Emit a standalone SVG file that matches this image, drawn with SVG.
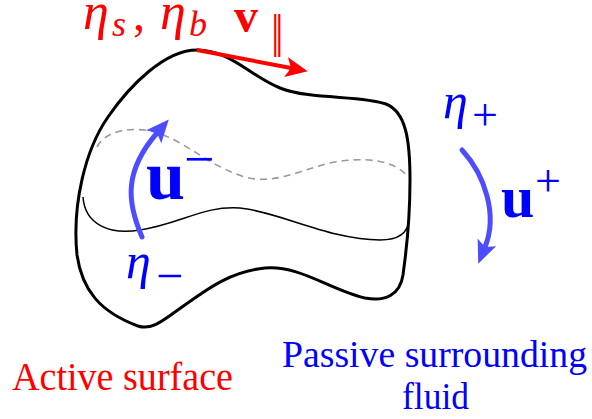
<svg xmlns="http://www.w3.org/2000/svg" width="592" height="419" viewBox="0 0 592 419">
<style>
.t{font-family:"Liberation Serif","DejaVu Serif",serif}
.it{font-style:italic}
.bf{font-weight:bold}
.red{fill:#ff0000}
.blue{fill:#0000ff}
.outline{fill:none;stroke:#000;stroke-width:3;stroke-linejoin:round}
.inner{fill:none;stroke:#000;stroke-width:1.5}
.dash{fill:none;stroke:#999;stroke-width:1.6;stroke-dasharray:7 5}
.barrow{fill:none;stroke:#4d4dff;stroke-width:5;stroke-linecap:round}
.rarrow{fill:none;stroke:#ff0000;stroke-width:4}
</style>
<defs>
<marker id="ahBlue" markerUnits="userSpaceOnUse" markerWidth="24" markerHeight="20" refX="5" refY="10" orient="auto" overflow="visible">
<path d="M0,0 L23,10 L0,20 L5,10 Z" fill="#4d4dff"/>
</marker>
<marker id="ahRed" markerUnits="userSpaceOnUse" markerWidth="24" markerHeight="20" refX="5" refY="10" orient="auto" overflow="visible">
<path d="M0,0 L22,10 L0,20 L5,10 Z" fill="#ff0000"/>
</marker>
</defs>
<g id="surface">
<path class="outline" d="M197,50 C230,50 250,76 280,88 C310,100 362,95 386,104 C406,112 410,140 410,180 C410,230 405,258 403,275 C400,295 385,302 365,298 C330,290 300,265 265,268 C225,272 200,295 175,312 C160,323 150,330 138,326 C100,312 82,290 77,255 C72,205 85,150 108,117 C130,85 165,50 197,50 Z"/>
<path class="inner" d="M83,197 C85,225 110,235 140,230 C180,224 205,205 240,208 C280,212 330,240 380,240 C400,240 408,232 409,220"/>
<path class="dash" d="M97,147 C105,132 125,128 145,130 C180,135 205,165 245,177 C275,185 300,170 330,163 C365,156 395,160 408,177"/>
</g>
<g id="connectors">
<path class="rarrow" d="M197,50 L291,68" marker-end="url(#ahRed)"/>
<path class="barrow" d="M142,237 C126,200 125,170 157,133" marker-end="url(#ahBlue)"/>
<path class="barrow" d="M462,150 C485,175 498,215 485,247" marker-end="url(#ahBlue)"/>
</g>
<g id="label-eta-sb" class="t red">
<text x="83" y="29" class="it" font-size="52">η</text>
<text x="112" y="36" class="it" font-size="36">s</text>
<text x="133" y="30" font-size="48">,</text>
<text x="160" y="29" class="it" font-size="52">η</text>
<text x="189" y="36" class="it" font-size="36">b</text>
</g>
<g id="label-v" class="t red">
<text x="234" y="32" class="bf" font-size="48">v</text>
<text transform="translate(271,47) scale(0.6,1)" font-family="DejaVu Sans" font-size="42">‖</text>
</g>
<g id="label-u-minus" class="t blue">
<text x="146" y="199" class="bf" font-size="70">u</text>
<text x="184" y="177" font-size="54">−</text>
</g>
<g id="label-eta-minus" class="t blue">
<text x="126" y="278" class="it" font-size="50">η</text>
<text x="156" y="292" font-size="48">−</text>
</g>
<g id="label-eta-plus" class="t blue">
<text x="443" y="118" class="it" font-size="50">η</text>
<text x="472" y="130" font-size="46">+</text>
</g>
<g id="label-u-plus" class="t blue">
<text x="501" y="217" class="bf" font-size="60">u</text>
<text x="535" y="196" font-size="46">+</text>
</g>
<g id="label-active" class="t red">
<text x="12" y="390" font-size="39" textLength="221" lengthAdjust="spacingAndGlyphs">Active surface</text>
</g>
<g id="label-passive" class="t blue">
<text x="434.5" y="367" font-size="38" text-anchor="middle" textLength="305" lengthAdjust="spacingAndGlyphs">Passive surrounding</text>
<text x="435.5" y="409" font-size="38" text-anchor="middle" textLength="67" lengthAdjust="spacingAndGlyphs">fluid</text>
</g>
</svg>
